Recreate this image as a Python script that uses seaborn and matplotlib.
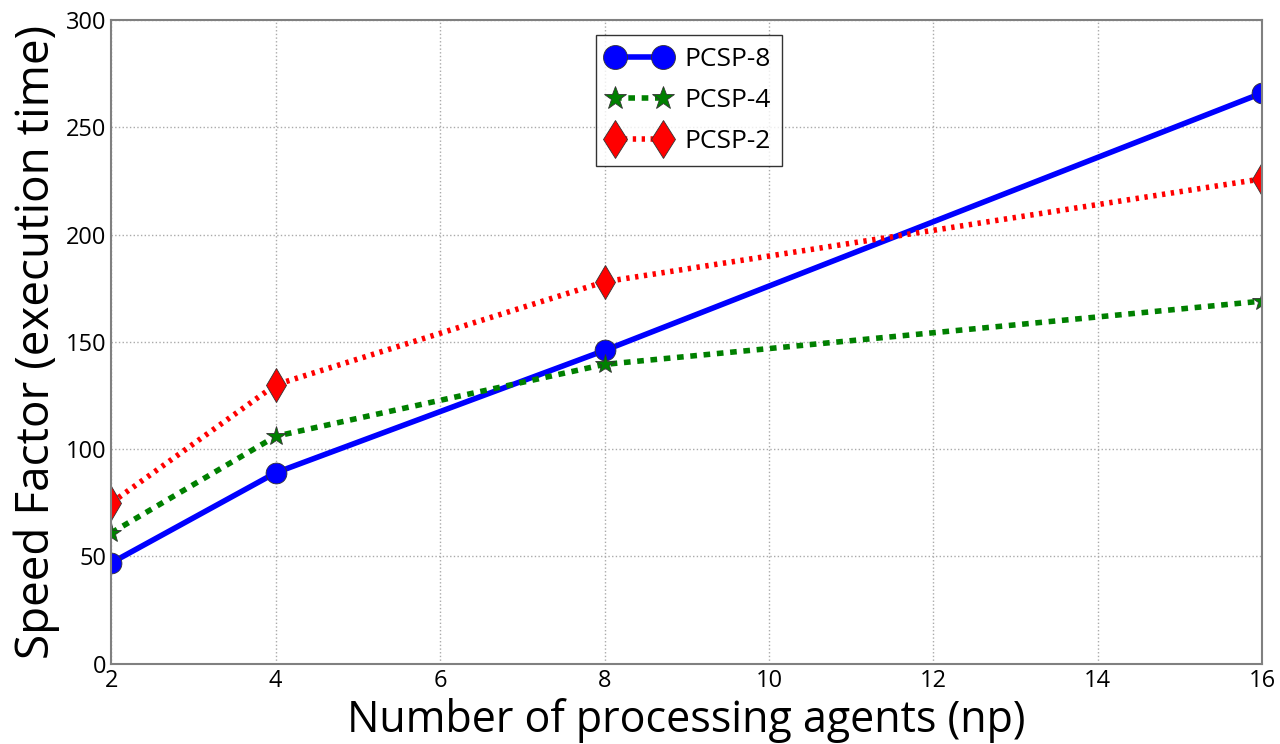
import pandas as pd
import matplotlib
matplotlib.use("Agg")
import matplotlib.pyplot as plt
import seaborn as sns

# data
agents = [2, 4, 8, 16]
pcsp8 = [47, 89, 146, 266]
pcsp4 = [61, 106, 139.5, 169]
pcsp2 = [75, 130, 178, 226]

sns.set_style("white")
plt.rcParams['font.family'] = ['Open Sans', 'DejaVu Sans']
plt.rcParams['text.color'] = 'black'
plt.rcParams['axes.labelcolor'] = 'black'
plt.rcParams['xtick.color'] = 'black'
plt.rcParams['ytick.color'] = 'black'


def main():
    df = pd.DataFrame({
        'np': agents * 3,
        'speed': pcsp8 + pcsp4 + pcsp2,
        'series': ['PCSP-8'] * 4 + ['PCSP-4'] * 4 + ['PCSP-2'] * 4,
    })

    fig, ax = plt.subplots(figsize=(12.8, 7.44), dpi=100)

    styles = {
        'PCSP-8': dict(color='blue', marker='o', ls='-', ms=15),
        'PCSP-4': dict(color='green', marker='*', ls=(0, (1.2, 1.2)), ms=15),
        'PCSP-2': dict(color='red', marker='d', ls=(0, (0.6, 1.0)), ms=17),
    }
    for name, st in styles.items():
        sub = df[df['series'] == name]
        sns.lineplot(data=sub, x='np', y='speed', ax=ax, label=name,
                     color=st['color'], marker=st['marker'], markersize=st['ms'],
                     linewidth=4, markeredgecolor='#333333',
                     markeredgewidth=0.6, dashes=False)
        ax.lines[-1].set_linestyle(st['ls'])

    ax.set_xlim(2, 16)
    ax.set_ylim(0, 300)
    ax.set_xticks(range(2, 17, 2))
    ax.set_yticks(range(0, 301, 50))
    ax.tick_params(labelsize=17, direction='in', length=5, color='gray', labelcolor='black')
    ax.grid(True, color='#aaaaaa', linestyle=':', linewidth=1)
    for s in ax.spines.values():
        s.set_color('gray')
        s.set_linewidth(1.5)

    ax.set_xlabel("Number of processing agents (np)", fontsize=31, color='black')
    ax.set_ylabel("Speed Factor (execution time)", fontsize=33, color='black')

    leg = ax.legend(loc='upper center', fontsize=19, frameon=True, fancybox=False,
                    borderpad=0.45, handlelength=2.4, handletextpad=0.5,
                    labelspacing=0.6, numpoints=2, markerscale=1.15,
                    bbox_to_anchor=(0.502, 0.997))
    leg.get_frame().set_edgecolor('black')
    leg.get_frame().set_linewidth(1)
    for t in leg.get_texts():
        t.set_color('black')

    fig.subplots_adjust(left=0.087, right=0.986, top=0.973, bottom=0.108)
    fig.savefig("out.png", dpi=100)


if __name__ == "__main__":
    main()
